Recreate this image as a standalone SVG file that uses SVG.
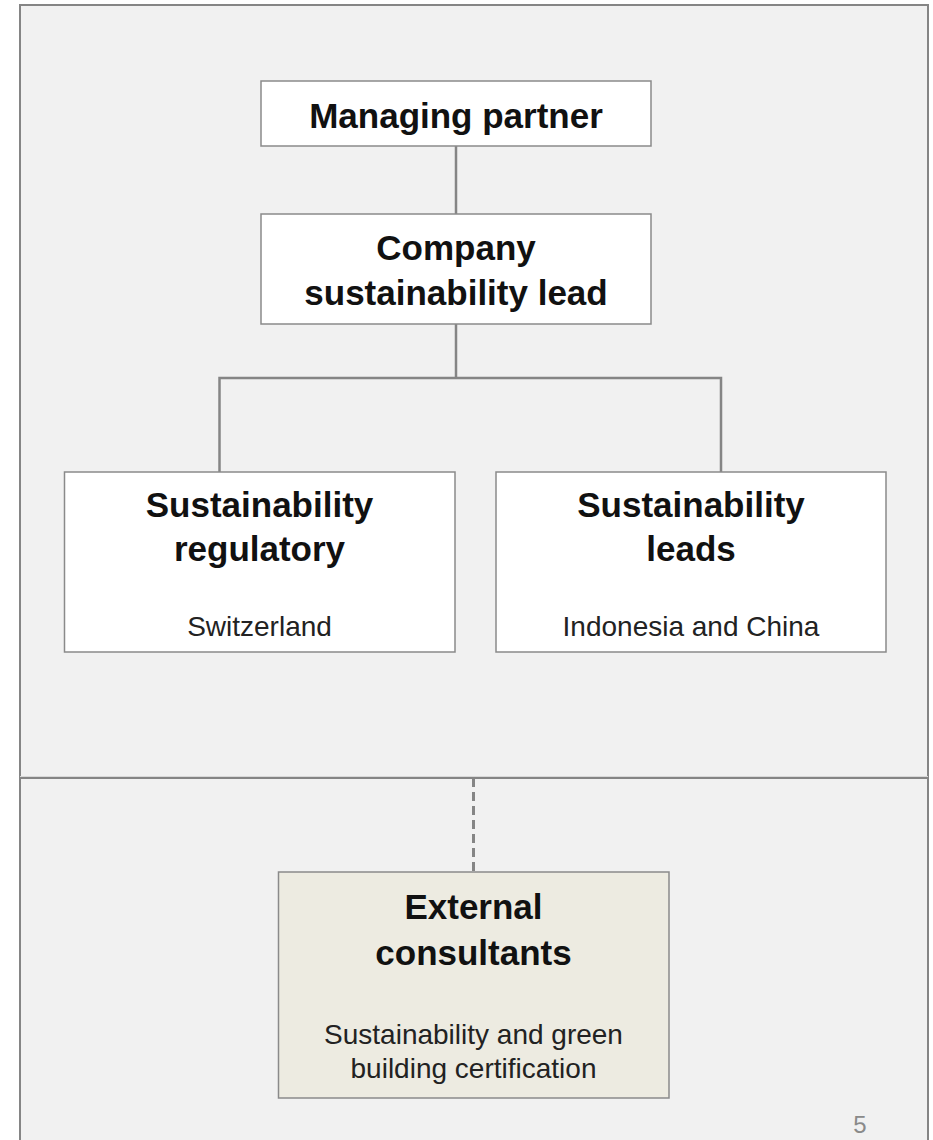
<svg xmlns="http://www.w3.org/2000/svg" width="933" height="1140" viewBox="0 0 933 1140">
<style>
.frame{fill:#f1f1f1;stroke:#858585;stroke-width:2}
.box{fill:#ffffff;stroke:#8a8a8a;stroke-width:1.5}
.ext{fill:#edebe1;stroke:#8a8a8a;stroke-width:1.5}
.conn{fill:none;stroke:#858585;stroke-width:2.5}
.dash{fill:none;stroke:#858585;stroke-width:3;stroke-dasharray:9 5}
.h{font-family:"Liberation Sans",Arial,sans-serif;font-weight:bold;font-size:35px;fill:#111;text-anchor:middle}
.s{font-family:"Liberation Sans",Arial,sans-serif;font-size:28px;fill:#222;text-anchor:middle}
.pg{font-family:"Liberation Sans",Arial,sans-serif;font-size:24px;fill:#8a8a8a;text-anchor:middle}
</style>
<rect x="0" y="0" width="933" height="1140" fill="#ffffff"/>
<g id="panels">
<rect class="frame" x="20" y="5" width="908" height="772"/>
<rect class="frame" x="20" y="778" width="908" height="380"/>
<line x1="20" y1="776.5" x2="928" y2="776.5" stroke="#d8d8d8" stroke-width="1"/>
</g>
<g id="connectors">
<line class="conn" x1="456" y1="146" x2="456" y2="214"/>
<line class="conn" x1="456" y1="324" x2="456" y2="378"/>
<polyline class="conn" points="219.5,472 219.5,378 721,378 721,472"/>
<line class="dash" x1="473.5" y1="778" x2="473.5" y2="872"/>
</g>
<g id="managing-partner">
<rect class="box" x="261" y="81" width="390" height="65"/>
<text class="h" x="456" y="128">Managing partner</text>
</g>
<g id="company-lead">
<rect class="box" x="261" y="214" width="390" height="110"/>
<text class="h" x="456" y="260">Company</text>
<text class="h" x="456" y="305">sustainability lead</text>
</g>
<g id="regulatory">
<rect class="box" x="64.5" y="472" width="390.5" height="180"/>
<text class="h" x="259.5" y="517">Sustainability</text>
<text class="h" x="259.5" y="561">regulatory</text>
<text class="s" x="259.5" y="636">Switzerland</text>
</g>
<g id="leads">
<rect class="box" x="496" y="472" width="390" height="180"/>
<text class="h" x="691" y="517">Sustainability</text>
<text class="h" x="691" y="561">leads</text>
<text class="s" x="691" y="636">Indonesia and China</text>
</g>
<g id="external">
<rect class="ext" x="278.5" y="872" width="390.5" height="226"/>
<text class="h" x="473.5" y="919">External</text>
<text class="h" x="473.5" y="965">consultants</text>
<text class="s" x="473.5" y="1044">Sustainability and green</text>
<text class="s" x="473.5" y="1078">building certification</text>
</g>
<g id="page">
<text class="pg" x="860" y="1133">5</text>
</g>
</svg>
